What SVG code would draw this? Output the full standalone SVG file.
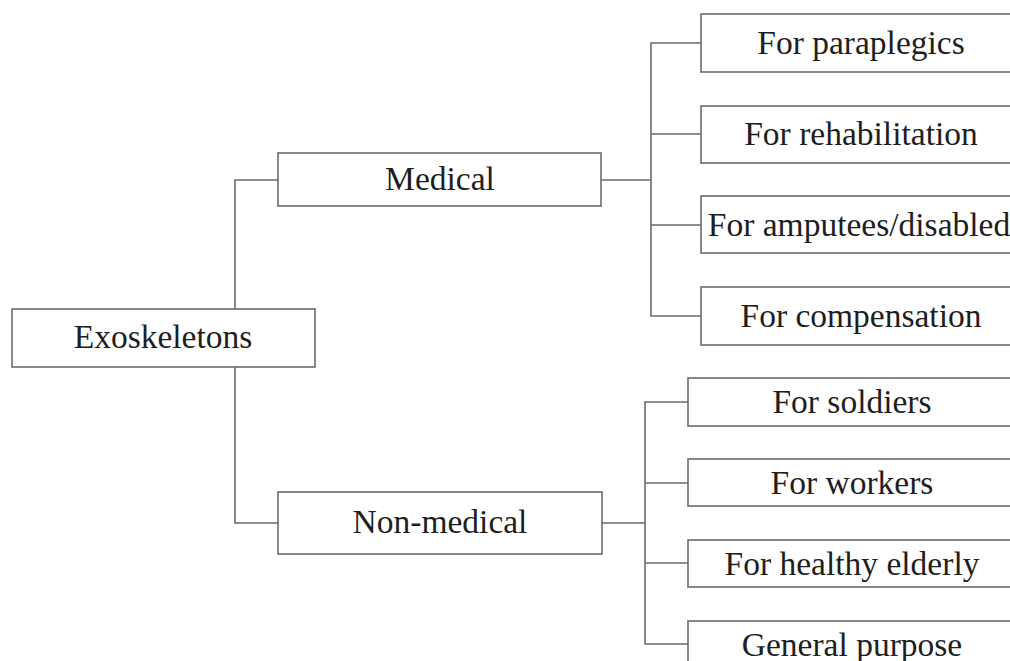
<svg xmlns="http://www.w3.org/2000/svg" width="1010" height="661" viewBox="0 0 1010 661">
<style>
.box{fill:#fff;stroke:#6b6b6b;stroke-width:1.6}
.ln{fill:none;stroke:#6b6b6b;stroke-width:1.6}
.t{font-family:'Liberation Serif','Times New Roman',Tinos,'DejaVu Serif',serif;font-size:33.5px;fill:#1e1e1e;text-anchor:middle}
</style>
<rect width="1010" height="661" fill="#fff"/>
<g id="connectors">
<path class="ln" d="M278,180 H235 V309 M235,367 V523 H278"/>
<path class="ln" d="M601,180 H651 M701,43 H651 V316 H701 M651,134 H701 M651,225 H701"/>
<path class="ln" d="M602,523 H645 M688,402 H645 V644 H688 M645,483 H688 M645,563 H688"/>
</g>
<g id="exoskeletons"><rect class="box" x="12" y="309" width="303" height="58"/><text class="t" x="163" y="348" font-family="Liberation Serif, serif">Exoskeletons</text></g>
<g id="medical"><rect class="box" x="278" y="153" width="323" height="53"/><text class="t" x="440" y="190" font-family="Liberation Serif, serif">Medical</text></g>
<g id="nonmedical"><rect class="box" x="278" y="492" width="324" height="62"/><text class="t" x="440" y="533" font-family="Liberation Serif, serif">Non-medical</text></g>
<g id="paraplegics"><rect class="box" x="701" y="14" width="320" height="58"/><text class="t" x="861" y="54" font-family="Liberation Serif, serif">For paraplegics</text></g>
<g id="rehabilitation"><rect class="box" x="701" y="106" width="320" height="57"/><text class="t" x="861" y="145" font-family="Liberation Serif, serif">For rehabilitation</text></g>
<g id="amputees"><rect class="box" x="701" y="196" width="320" height="57"/><text class="t" x="859" y="236" font-family="Liberation Serif, serif">For amputees/disabled</text></g>
<g id="compensation"><rect class="box" x="701" y="287" width="320" height="58"/><text class="t" x="861" y="327" font-family="Liberation Serif, serif">For compensation</text></g>
<g id="soldiers"><rect class="box" x="688" y="378" width="330" height="48"/><text class="t" x="852" y="413" font-family="Liberation Serif, serif">For soldiers</text></g>
<g id="workers"><rect class="box" x="688" y="459" width="330" height="47"/><text class="t" x="852" y="494" font-family="Liberation Serif, serif">For workers</text></g>
<g id="elderly"><rect class="box" x="688" y="540" width="330" height="47"/><text class="t" x="852" y="575" font-family="Liberation Serif, serif">For healthy elderly</text></g>
<g id="general"><rect class="box" x="688" y="621" width="330" height="50"/><text class="t" x="852" y="656" font-family="Liberation Serif, serif">General purpose</text></g>
</svg>
